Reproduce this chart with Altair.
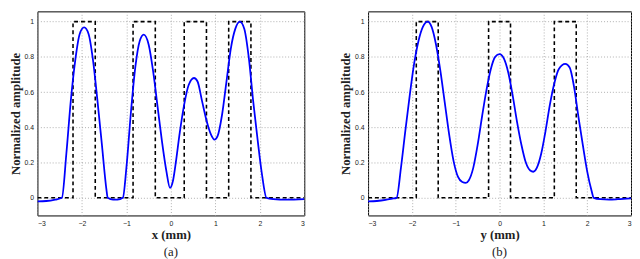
import altair as alt
import pandas as pd

# ---------- data ----------
# panel (a): blue measured profile
xa = [-3.0, -2.8, -2.6, -2.45, -2.35, -2.25, -2.15, -2.05, -1.95, -1.85, -1.75, -1.65, -1.55,
      -1.45, -1.42, -1.3, -1.2, -1.08, -1.0, -0.9, -0.8, -0.7, -0.61, -0.5, -0.4, -0.3, -0.2,
      -0.1, -0.02, 0.05, 0.1, 0.2, 0.3, 0.4, 0.52, 0.6, 0.7, 0.8, 0.9, 0.98, 1.05, 1.15, 1.25,
      1.35, 1.45, 1.55, 1.65, 1.75, 1.85, 1.95, 2.05, 2.15, 2.3, 2.6, 3.0]
ya = [-0.02, -0.018, -0.01, 0.0, 0.25, 0.55, 0.78, 0.93, 0.967, 0.93, 0.78, 0.55, 0.3,
      0.05, 0.0, -0.01, -0.01, 0.0, 0.17, 0.48, 0.74, 0.89, 0.926, 0.87, 0.72, 0.52, 0.32,
      0.15, 0.057, 0.1, 0.18, 0.37, 0.53, 0.64, 0.68, 0.66, 0.55, 0.44, 0.36, 0.33, 0.35, 0.47, 0.66,
      0.85, 0.96, 1.0, 0.96, 0.8, 0.55, 0.33, 0.13, 0.0, -0.007, -0.01, -0.007]
# panel (a): aperture edges (dashed rectangles)
rects_a = [(-2.2, -1.7), (-0.85, -0.35), (0.3, 0.8), (1.3, 1.8)]

# panel (b)
xb = [-3.0, -2.8, -2.6, -2.45, -2.35, -2.25, -2.15, -2.05, -1.95, -1.85, -1.75, -1.64, -1.55,
      -1.45, -1.4, -1.35, -1.25, -1.15, -1.05, -0.95, -0.85, -0.77, -0.7, -0.6, -0.5, -0.4, -0.3,
      -0.2, -0.1, 0.0, 0.1, 0.2, 0.3, 0.4, 0.5, 0.6, 0.7, 0.77, 0.85, 0.95, 1.05, 1.15, 1.25,
      1.35, 1.5, 1.6, 1.7, 1.8, 1.9, 2.0, 2.1, 2.15, 2.3, 2.5, 2.7, 3.0]
yb = [-0.02, -0.018, -0.012, -0.005, 0.0, 0.17, 0.38, 0.58, 0.76, 0.89, 0.97, 1.0, 0.97,
      0.87, 0.8, 0.72, 0.54, 0.36, 0.21, 0.12, 0.09, 0.085, 0.1, 0.17, 0.3, 0.46, 0.61,
      0.73, 0.8, 0.815, 0.79, 0.71, 0.58, 0.43, 0.3, 0.2, 0.155, 0.148, 0.17, 0.25, 0.38, 0.53, 0.65,
      0.73, 0.76, 0.74, 0.63, 0.46, 0.3, 0.15, 0.04, 0.0, -0.008, -0.01, -0.008, -0.003]
rects_b = [(-1.9, -1.4), (-0.25, 0.25), (1.25, 1.75)]

x_ticks = [-3, -2, -1, 0, 1, 2, 3]
y_ticks = [0, 0.2, 0.4, 0.6, 0.8, 1]
x_min, x_max = -3, 3
y_low, y_high = -0.1, 1.058

SERIF = "Liberation Serif"
SANS = "Liberation Sans"


def step_frame(rects):
    pts = [(x_min, 0)]
    for a, b in rects:
        pts += [(a, 0), (a, 1), (b, 1), (b, 0)]
    pts.append((x_max, 0))
    return pd.DataFrame({"x": [p[0] for p in pts], "y": [p[1] for p in pts],
                         "o": list(range(len(pts)))})


def panel(xs, ys, rects, xlabel, tag, w):
    curve_df = pd.DataFrame({"x": xs, "y": ys, "o": list(range(len(xs)))})
    xenc = alt.X("x:Q", scale=alt.Scale(domain=[x_min, x_max], nice=False),
                 axis=alt.Axis(values=x_ticks, title=xlabel, grid=True, domain=False,
                               ticks=False, labelFontSize=7, labelFont=SANS,
                               labelColor="#222", labelPadding=4,
                               titleFont=SERIF, titleFontSize=13, titleFontWeight="bold",
                               titleColor="#222", titlePadding=3,
                               gridColor="#9a9a9a", gridDash=[1, 2], gridWidth=0.8))
    yenc = alt.Y("y:Q", scale=alt.Scale(domain=[y_low, y_high], nice=False),
                 axis=alt.Axis(values=y_ticks, format="~g", title="Normalized amplitude",
                               grid=True, domain=False, ticks=False, labelFontSize=7,
                               labelFont=SANS, labelColor="#222", labelPadding=4,
                               titleFont=SERIF, titleFontSize=13, titleFontWeight="bold",
                               titleColor="#222", titlePadding=2,
                               gridColor="#9a9a9a", gridDash=[1, 2], gridWidth=0.8))
    dashed = alt.Chart(step_frame(rects)).mark_line(
        color="black", strokeWidth=1.6, strokeDash=[4, 3], clip=True
    ).encode(x=xenc, y=yenc, order="o:Q")
    curve = alt.Chart(curve_df).mark_line(
        color="#0000ff", strokeWidth=1.8, interpolate="monotone", clip=True
    ).encode(x=xenc, y=yenc, order="o:Q")
    return alt.layer(dashed, curve).properties(
        width=w, height=208,
        title=alt.TitleParams(tag, orient="bottom", font=SERIF, fontSize=13,
                              fontWeight="normal", color="#222", offset=4))


chart = alt.hconcat(
    panel(xa, ya, rects_a, "x (mm)", "(a)", 272),
    panel(xb, yb, rects_b, "y (mm)", "(b)", 268),
    spacing=34,
).properties(padding=0).configure_view(stroke="black", strokeWidth=1)

chart.save("out.html", embed_options={"renderer": "svg", "actions": False})
